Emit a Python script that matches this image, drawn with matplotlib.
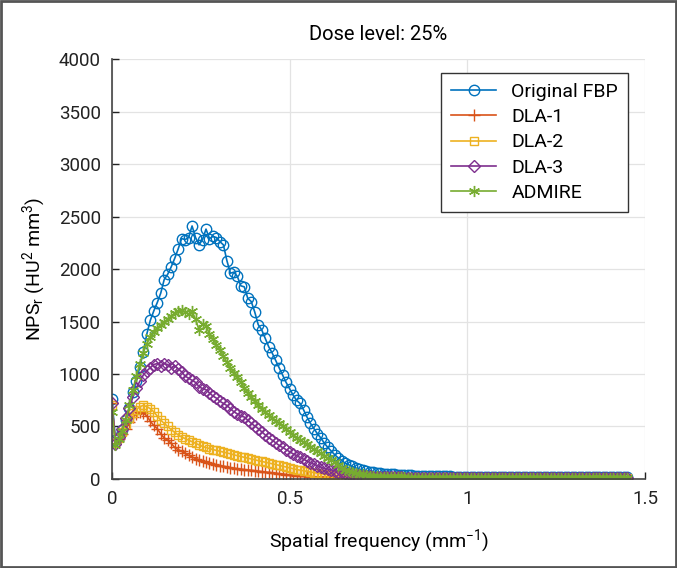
import numpy as np
import matplotlib
matplotlib.use("Agg")
import matplotlib.pyplot as plt
from matplotlib.patches import Rectangle

plt.rcParams['font.family'] = ['Roboto', 'DejaVu Sans']
plt.rcParams['mathtext.fontset'] = 'custom'
plt.rcParams['mathtext.rm'] = 'Roboto'
plt.rcParams['mathtext.it'] = 'Roboto'

freq_step = 0.0098

fbp = [763, 370, 400, 470, 560, 680, 830, 930, 1070, 1210,
       1380, 1510, 1600, 1680, 1770, 1900, 1950, 2020, 2100, 2190,
       2290, 2280, 2300, 2410, 2300, 2230, 2280, 2380, 2290, 2310,
       2300, 2260, 2230, 2080, 1960, 1970, 1930, 1840, 1830, 1720,
       1690, 1590, 1470, 1420, 1340, 1260, 1200, 1130, 1060, 990,
       920, 860, 800, 750, 720, 660, 590, 530, 480, 430,
       390, 340, 300, 265, 230, 200, 175, 150, 135, 120,
       105, 95, 85, 78, 70, 64, 60, 56, 52, 48,
       45, 43, 41, 39, 37, 35, 34, 32, 31, 30,
       29, 28, 27, 26, 25, 25, 24, 24, 23, 23,
       22, 22, 22, 21, 21, 21, 20, 20, 20, 20,
       19, 19, 19, 19, 19, 18, 18, 18, 18, 18,
       18, 17, 17, 17, 17, 17, 17, 17, 16, 16,
       16, 16, 16, 16, 16, 16, 16, 15, 15, 15,
       15, 15, 15, 15, 15, 15, 15, 15, 15]

dla1 = [720, 340, 380, 430, 480, 540, 590, 620, 640, 630,
        600, 550, 510, 480, 430, 390, 370, 340, 300, 280,
        265, 245, 225, 210, 195, 185, 172, 160, 150, 140,
        135, 128, 120, 115, 108, 103, 98, 94, 90, 86,
        82, 78, 74, 70, 66, 62, 58, 54, 50, 46,
        42, 38, 35, 32, 29, 27, 25, 23, 21, 20,
        19, 18, 18, 17, 17, 16, 16, 15, 15, 15,
        14, 14, 14, 14, 14, 13, 13, 13, 13, 13,
        13, 13, 13, 12, 12, 12, 12, 12, 12, 12,
        12, 12, 12, 12, 12, 12, 12, 12, 12, 12,
        12, 12, 12, 12, 12, 12, 12, 12, 12, 12,
        12, 12, 12, 12, 12, 12, 12, 12, 12, 12,
        12, 12, 12, 12, 12, 12, 12, 12, 12, 12,
        12, 12, 12, 12, 12, 12, 12, 12, 12, 12,
        12, 12, 12, 12, 12, 12, 12, 12, 12]

dla2 = [700, 340, 390, 450, 520, 580, 630, 660, 690, 700,
        690, 670, 640, 600, 560, 530, 500, 470, 445, 420,
        400, 385, 370, 355, 340, 325, 310, 300, 290, 280,
        272, 264, 256, 248, 240, 230, 222, 214, 206, 198,
        190, 182, 175, 168, 160, 152, 145, 138, 130, 122,
        114, 106, 98, 90, 84, 78, 72, 66, 60, 55,
        50, 46, 42, 38, 35, 32, 29, 27, 25, 23,
        21, 20, 19, 18, 17, 17, 16, 16, 15, 15,
        15, 14, 14, 14, 14, 13, 13, 13, 13, 13,
        13, 13, 13, 13, 13, 13, 13, 13, 13, 13,
        13, 13, 13, 13, 13, 12, 12, 12, 12, 12,
        12, 12, 12, 12, 12, 12, 12, 12, 12, 12,
        12, 12, 12, 12, 12, 12, 12, 12, 12, 12,
        12, 12, 12, 12, 12, 12, 12, 12, 12, 12,
        12, 12, 12, 12, 12, 12, 12, 12, 12]

dla3 = [720, 330, 400, 480, 580, 680, 780, 870, 930, 990,
        1030, 1060, 1090, 1100, 1080, 1100, 1090, 1060, 1080, 1050,
        1020, 980, 960, 940, 920, 880, 860, 850, 820, 790,
        770, 740, 720, 700, 670, 640, 620, 600, 590, 560,
        530, 505, 480, 450, 420, 395, 370, 345, 320, 300,
        280, 260, 240, 222, 205, 188, 170, 155, 140, 126,
        113, 100, 95, 86, 78, 70, 62, 55, 49, 43,
        38, 34, 30, 27, 24, 22, 20, 19, 18, 17,
        16, 15, 15, 15, 14, 14, 14, 14, 13, 13,
        13, 13, 13, 13, 13, 13, 13, 13, 13, 13,
        13, 13, 13, 13, 13, 13, 13, 13, 13, 13,
        12, 12, 12, 12, 12, 12, 12, 12, 12, 12,
        12, 12, 12, 12, 12, 12, 12, 12, 12, 12,
        12, 12, 12, 12, 12, 12, 12, 12, 12, 12,
        12, 12, 12, 12, 12, 12, 12, 12, 12]

admire = [640, 320, 380, 460, 560, 700, 850, 980, 1100, 1200,
          1290, 1350, 1400, 1440, 1470, 1500, 1520, 1550, 1580, 1600,
          1610, 1590, 1570, 1600, 1520, 1420, 1480, 1460, 1380, 1330,
          1280, 1230, 1170, 1110, 1060, 1010, 970, 920, 870, 820,
          780, 740, 700, 670, 640, 610, 580, 555, 530, 505,
          480, 450, 420, 390, 370, 355, 330, 305, 285, 265,
          245, 222, 200, 178, 158, 138, 105, 90, 78, 67,
          58, 50, 44, 38, 33, 29, 26, 23, 21, 19,
          18, 17, 16, 15, 15, 14, 14, 14, 13, 13,
          13, 13, 13, 13, 13, 13, 13, 13, 13, 13,
          13, 13, 13, 13, 13, 13, 13, 13, 13, 13,
          12, 12, 12, 12, 12, 12, 12, 12, 12, 12,
          12, 12, 12, 12, 12, 12, 12, 12, 12, 12,
          12, 12, 12, 12, 12, 12, 12, 12, 12, 12,
          12, 12, 12, 12, 12, 12, 12, 12, 12]

labels = ['Original FBP', 'DLA-1', 'DLA-2', 'DLA-3', 'ADMIRE']
colors = ['#0072BD', '#D95319', '#EDB120', '#7E2F8E', '#77AC30']
markers = ['o', '+', 's', 'D', (6, 2, 0)]
msizes = [7.5, 8, 6, 6.5, 8]

x_ticks = [0, 0.5, 1, 1.5]
y_ticks = [0, 500, 1000, 1500, 2000, 2500, 3000, 3500, 4000]

fig = plt.figure(figsize=(6.77, 5.68), dpi=100)
ax = fig.add_axes([0.1654, 0.1567, 0.7873, 0.7394])

for series, lab, col, mk, ms in zip([fbp, dla1, dla2, dla3, admire], labels, colors, markers, msizes):
    f = np.arange(len(series)) * freq_step
    ax.plot(f, series, color=col, lw=1.2, marker=mk, markersize=ms,
            markerfacecolor='none', markeredgewidth=1.0, label=lab)

ax.set_xlim(0, 1.5)
ax.set_ylim(0, 4000)
ax.set_xticks(x_ticks)
ax.set_xticklabels(['0', '0.5', '1', '1.5'])
ax.set_yticks(y_ticks)
ax.tick_params(direction='in', length=5, width=1, labelsize=13.5, colors='#222222', pad=8)
ax.grid(True, color='#e3e3e3', lw=0.9)
ax.set_axisbelow(True)
for s in ['top', 'right']:
    ax.spines[s].set_visible(False)
for s in ['left', 'bottom']:
    ax.spines[s].set_color('#444444')
    ax.spines[s].set_linewidth(1.2)

ax.set_title('Dose level: 25%', fontsize=14.5, pad=14)
ax.set_xlabel('Spatial frequency (mm$^{-1}$)', fontsize=14, labelpad=14)
ax.set_ylabel('NPS$_\\mathrm{r}$ (HU$^2$ mm$^3$)', fontsize=14, labelpad=8)

leg = ax.legend(loc='upper right', bbox_to_anchor=(0.968, 0.967), borderaxespad=0,
                fontsize=14, handlelength=2.3, fancybox=False, framealpha=1,
                edgecolor='#333333', borderpad=0.5, labelspacing=0.38)
leg.get_frame().set_linewidth(1.0)

# frame around the whole figure
fig.patches.append(Rectangle((0.002, 0.002), 0.996, 0.996, transform=fig.transFigure,
                             fill=False, edgecolor='#555555', lw=2))

fig.savefig('out.png', dpi=100)
